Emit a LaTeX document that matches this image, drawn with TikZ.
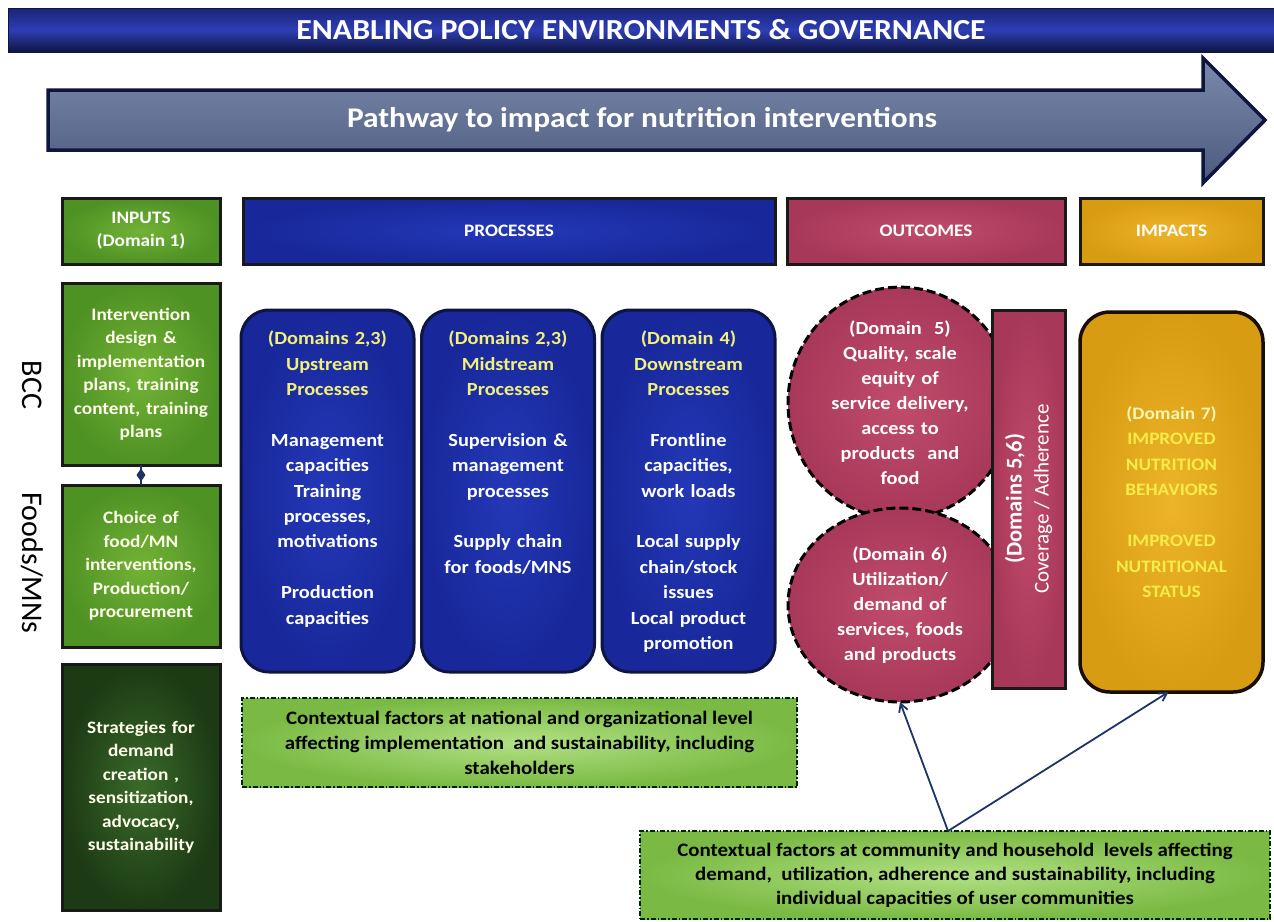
\documentclass[tikz,border=0pt]{standalone}
\usepackage{fontspec}
\setmainfont{Carlito}[FakeStretch=1.1]
\newfontfamily\plainf{Carlito}
\usetikzlibrary{shapes.geometric,arrows.meta}
\definecolor{navy}{HTML}{0E1540}
\definecolor{bannerA}{HTML}{1A2478}
\definecolor{bannerB}{HTML}{2E3EB4}
\definecolor{arrA}{HTML}{7B89AB}
\definecolor{arrB}{HTML}{4C5A7E}
\definecolor{grn}{HTML}{4F9224}
\definecolor{grnL}{HTML}{72B236}
\definecolor{dgrn}{HTML}{3A6A2A}
\definecolor{dgrnD}{HTML}{1C3A14}
\definecolor{pblue}{HTML}{18289A}
\definecolor{pblueL}{HTML}{2438B8}
\definecolor{crim}{HTML}{A8385A}
\definecolor{crimL}{HTML}{C04C6A}
\definecolor{gold}{HTML}{D89C12}
\definecolor{goldL}{HTML}{EDB42A}
\definecolor{ylw}{HTML}{F2F07C}
\definecolor{iylw}{HTML}{F6EC4A}
\definecolor{ctxL}{HTML}{B2E084}
\definecolor{ctxD}{HTML}{7ABA44}
\definecolor{connc}{HTML}{1E3466}
\tikzset{
  hdr/.style={draw=black!90, line width=3pt, minimum height=66, text=white,
    font=\bfseries\fontsize{17.5}{23}\selectfont, align=center},
  inbox/.style={draw=black!90, line width=3pt, minimum width=158,
    inner color=grnL, outer color=grn, text=white!92!yellow, text width=150,
    font=\bfseries\fontsize{17.5}{23.5}\selectfont, align=center},
  procbox/.style={draw=navy, line width=3pt, rounded corners=28, minimum width=173,
    minimum height=362, inner color=pblueL, outer color=pblue},
  proctxt/.style={text width=170, align=center, text=ylw,
    font=\bfseries\fontsize{18.5}{25.4}\selectfont},
  outcirc/.style={ellipse, draw=black, line width=3pt, dash pattern=on 9pt off 4pt,
    inner color=crimL, outer color=crim, minimum width=224, text=white,
    text width=150, align=center, font=\bfseries\fontsize{18.5}{25}\selectfont},
  ctxbox/.style={draw=black!85!green, line width=2pt,
    dash pattern=on 5pt off 2pt on 1.5pt off 2pt, inner color=ctxL, outer color=ctxD,
    text=black, align=center},
  sidelbl/.style={rotate=-90, font=\plainf\fontsize{30}{30}\selectfont, text=black},
  connarrow/.style={draw=connc, line width=1.8pt, -{Straight Barb[length=8pt,width=9pt]}}
}
\begin{document}
\begin{tikzpicture}[x=1pt,y=-1pt, every node/.style={inner sep=0pt, outer sep=0pt}]
\useasboundingbox (0,0) rectangle (1274,921);
\fill[white] (0,0) rectangle (1274,921);

% banner
\node[draw=navy, line width=1pt, minimum width=1266, minimum height=44,
  top color=bannerA, bottom color=navy, middle color=bannerB, text=white,
  font=\bfseries\fontsize{29}{30}\selectfont] (banner) at (641,30)
  {ENABLING POLICY ENVIRONMENTS \& GOVERNANCE};

% big arrow
\draw[draw=navy, line width=3.5pt, line join=miter, top color=arrA, bottom color=arrB]
  (48,90) -- (1203,90) -- (1203,58) -- (1265,120) -- (1203,183) -- (1203,150) -- (48,150) -- cycle;
\node[text=white, font=\bfseries\fontsize{28.5}{30}\selectfont] (pathway) at (642,120)
  {Pathway to impact for nutrition interventions};

% headers
\node[hdr, minimum width=158, inner color=grnL, outer color=grn] (hin) at (141,231)
  {INPUTS\\(Domain 1)};
\node[hdr, minimum width=532, inner color=pblueL, outer color=pblue] (hproc) at (509,231) {PROCESSES};
\node[hdr, minimum width=278, inner color=crimL, outer color=crim] (hout) at (926,231) {OUTCOMES};
\node[hdr, minimum width=183, inner color=goldL, outer color=gold] (himp) at (1171.5,231) {IMPACTS};

% inputs column
\node[inbox, minimum height=182] (bcc) at (141,374)
  {Intervention\\design \&\\implementation\\plans, training\\content, training\\plans};
\node[inbox, minimum height=162] (foods) at (141,566)
  {Choice of\\food/MN\\interventions,\\Production/\\procurement};
\node[inbox, minimum height=246, inner color=dgrn, outer color=dgrnD] (strat) at (141,787)
  {Strategies for\\demand\\creation ,\\sensitization,\\advocacy,\\sustainability};
\draw[draw=connc, line width=1.5pt] (bcc.south) -- node[diamond, fill=connc, minimum width=9, minimum height=13] (dmd) {} (foods.north);

\node[sidelbl] (lbcc) at (32,385) {BCC};
\node[sidelbl] (lfoods) at (32,563) {Foods/MNs};

% process boxes
\node[procbox] (up) at (327.5,491) {};
\node[procbox] (mid) at (508,491) {};
\node[procbox] (down) at (688.5,491) {};
\node[proctxt, anchor=north] (uptxt) at ([yshift=-21pt]up.north)
  {(Domains 2,3)\\Upstream\\Processes\\[25.4pt]\color{white}Management\\capacities\\Training\\processes,\\motivations\\[25.4pt]Production\\capacities};
\node[proctxt, anchor=north] (midtxt) at ([yshift=-21pt]mid.north)
  {(Domains 2,3)\\Midstream\\Processes\\[25.4pt]\color{white}Supervision \&\\management\\processes\\[25.4pt]Supply chain\\for foods/MNS};
\node[proctxt, anchor=north] (downtxt) at ([yshift=-21pt]down.north)
  {(Domain 4)\\Downstream\\Processes\\[25.4pt]\color{white}Frontline\\capacities,\\work loads\\[25.4pt]Local supply\\chain/stock\\issues\\Local product\\promotion};

% outcomes
\node[outcirc, minimum height=216] (c1) at (900,403)
  {(Domain\ \ 5)\\Quality, scale\\equity of\\service delivery,\\access to\\products\ \ and\\food};
\node[outcirc, minimum height=194] (c2) at (900,605)
  {(Domain 6)\\Utilization/\\demand of\\services, foods\\and products};
\node[draw=black!90, line width=3pt, minimum width=73, minimum height=378,
  inner color=crimL, outer color=crim] (bar) at (1028.5,499) {};
\node[rotate=90, text=white, align=center, font=\plainf\fontsize{21}{27}\selectfont] (bartxt) at (bar.center)
  {{\bfseries\fontsize{22.5}{27}\selectfont (Domains 5,6)}\\Coverage / Adherence};

% impacts
\node[draw=black!90!orange, line width=3.5pt, rounded corners=30, minimum width=183,
  minimum height=380, inner color=goldL, outer color=gold] (imp) at (1171.5,502) {};
\node[text width=175, align=center, text=iylw, font=\bfseries\fontsize{17.5}{25.5}\selectfont] (imptxt) at (imp.center)
  {{\color{ylw!60!white}(Domain 7)}\\IMPROVED\\NUTRITION\\BEHAVIORS\\[25.5pt]IMPROVED\\NUTRITIONAL\\STATUS};

% contextual boxes
\node[ctxbox, minimum width=555, minimum height=89, font=\bfseries\fontsize{19}{25}\selectfont] (ctx1) at (519.5,742.5)
  {Contextual factors at national and organizational level\\affecting implementation\ \ and sustainability, including\\stakeholders};
\node[ctxbox, minimum width=630, minimum height=88, font=\bfseries\fontsize{19}{24}\selectfont] (ctx2) at (955,875)
  {Contextual factors at community and household\ \ levels affecting\\demand,\ \ utilization, adherence and sustainability, including\\individual capacities of user communities};

\draw[connarrow] ([xshift=-7pt]ctx2.north) -- (c2.south);
\draw[connarrow] ([xshift=-7pt]ctx2.north) -- ([xshift=-3pt]imp.south);
\end{tikzpicture}
\end{document}
